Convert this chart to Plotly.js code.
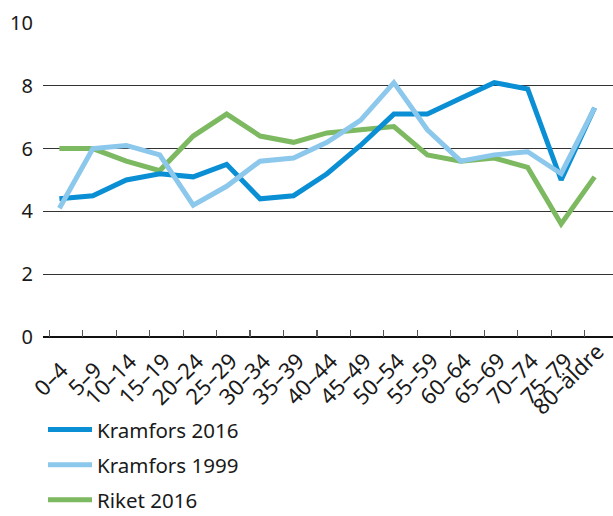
<!DOCTYPE html>
<html>
<head>
<meta charset="utf-8">
<script src="https://cdn.plot.ly/plotly-3.0.1.min.js"></script>
<style>html,body{margin:0;padding:0;background:#fff;}#chart{width:613px;height:516px;}</style>
</head>
<body>
<div id="chart"></div>
<script>
var categories = ["0–4","5–9","10–14","15–19","20–24","25–29","30–34","35–39","40–44","45–49","50–54","55–59","60–64","65–69","70–74","75–79","80–äldre"];
var kramfors2016 = [4.4,4.5,5.0,5.2,5.1,5.5,4.4,4.5,5.2,6.1,7.1,7.1,7.6,8.1,7.9,5.0,7.3];
var kramfors1999 = [4.1,6.0,6.1,5.8,4.2,4.8,5.6,5.7,6.2,6.9,8.1,6.6,5.6,5.8,5.9,5.2,7.3];
var riket2016 = [6.0,6.0,5.6,5.3,6.4,7.1,6.4,6.2,6.5,6.6,6.7,5.8,5.6,5.7,5.4,3.6,5.1];
var yTicks = [0,2,4,6,8,10];

var FONT = "Noto Sans, Open Sans, sans-serif";
var TXT = "#1a1a1a";
var traces = [
  {x: categories, y: riket2016, name: "Riket 2016", type: "scatter", mode: "lines",
   line: {color: "#7cb961", width: 5}, legendrank: 3, legendgroup: "c"},
  {x: categories, y: kramfors2016, name: "Kramfors 2016", type: "scatter", mode: "lines",
   line: {color: "#0a8fd4", width: 5}, legendrank: 1, legendgroup: "a"},
  {x: categories, y: kramfors1999, name: "Kramfors 1999", type: "scatter", mode: "lines",
   line: {color: "#8cc7ec", width: 5}, legendrank: 2, legendgroup: "b"}
];
// x tick labels, centred and rotated like the reference
var labelAnnotations = categories.map(function (c) {
  return {x: c, xref: "x", y: 0, yref: "paper", yshift: -41, xshift: 2 - 3.6 * c.length,
          text: c, textangle: -45, showarrow: false, xanchor: "center", yanchor: "middle",
          borderpad: 0, font: {family: FONT, size: 22, color: TXT}};
});
var layout = {
  width: 613, height: 516,
  margin: {l: 43, r: 0, t: 23, b: 179},
  paper_bgcolor: "#fff", plot_bgcolor: "#fff",
  font: {family: FONT, size: 19, color: TXT},
  showlegend: true,
  legend: {xref: "paper", yref: "container", x: 0, xanchor: "left", y: 0.206, yanchor: "top",
           orientation: "v", traceorder: "grouped", tracegroupgap: 5.5,
           font: {family: FONT, size: 20.5, color: TXT}, itemwidth: 44, bgcolor: "rgba(0,0,0,0)"},
  annotations: labelAnnotations,
  xaxis: {type: "category", range: [-0.49, 16.55], showgrid: false, zeroline: false,
          showline: false, ticks: "", showticklabels: false, fixedrange: true, automargin: false},
  xaxis2: {overlaying: "x", anchor: "y", type: "linear", range: [-0.49, 16.55],
           tickmode: "linear", tick0: -0.3, dtick: 1, ticks: "inside", ticklen: 7, tickwidth: 1.2, tickcolor: "#555",
           showticklabels: false, showgrid: false, zeroline: false, showline: false, side: "bottom", automargin: false},
  yaxis: {range: [0, 10], tickvals: yTicks, ticktext: yTicks.map(String), showgrid: true,
          gridcolor: "#333", gridwidth: 1, zeroline: true, zerolinecolor: "#111", zerolinewidth: 1.6,
          showline: false, ticks: "", ticklabelstandoff: 9, automargin: false,
          tickfont: {family: FONT, size: 20, color: TXT}, fixedrange: true}
};
traces.push({x: [0, 16], y: [0, 0], xaxis: "x2", yaxis: "y", mode: "markers", marker: {opacity: 0},
             showlegend: false, hoverinfo: "skip"});
Plotly.newPlot("chart", traces, layout, {displayModeBar: false, staticPlot: true});
</script>
</body>
</html>
